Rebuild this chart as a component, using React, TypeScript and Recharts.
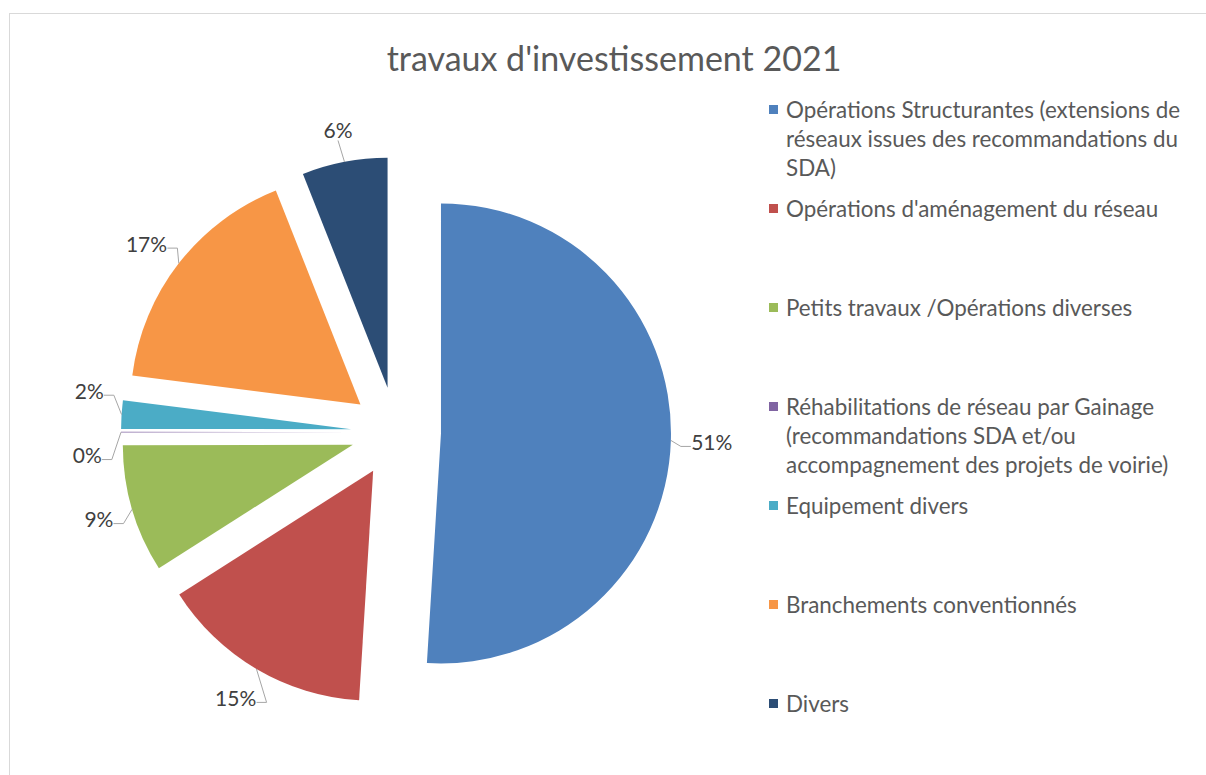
import { PieChart, Pie, Cell, Legend, Sector } from 'recharts';

const CATEGORIES = [
  'Opérations Structurantes (extensions de réseaux issues des recommandations du SDA)',
  "Opérations d'aménagement du réseau",
  'Petits travaux /Opérations diverses',
  'Réhabilitations de réseau par Gainage (recommandations SDA et/ou accompagnement des projets de voirie)',
  'Equipement divers',
  'Branchements conventionnés',
  'Divers',
];
const SHARES = [51, 15, 9, 0.05, 2, 17, 6];
const COLORS = ['#4F81BD', '#C0504D', '#9BBB59', '#8064A2', '#4BACC6', '#F79646', '#2C4D75'];

const data = CATEGORIES.map((name, i) => ({ name, value: SHARES[i] }));

const FONT = 'Lato, "Open Sans", sans-serif';
const LABEL_SIZE = 21;
const EXPLODE = 45;
const RADIUS = 230;
const GAP = 22;
const MIN_SEP = 12; // degrees between neighbouring labels

const RAD = Math.PI / 180;

// label angles (same convention as the pie: 90 = top, going clockwise), spread when too close
const labelAngles = (() => {
  const total = SHARES.reduce((a, b) => a + b, 0);
  let acc = 0;
  const mids = SHARES.map((v) => {
    const m = 90 - ((acc + v / 2) / total) * 360;
    acc += v;
    return m;
  });
  for (let i = 1; i < mids.length; i++) {
    const diff = mids[i - 1] - mids[i];
    if (diff < MIN_SEP) {
      const c = (mids[i - 1] + mids[i]) / 2;
      mids[i - 1] = c + MIN_SEP / 2;
      mids[i] = c - MIN_SEP / 2;
    }
  }
  return mids;
})();

const renderSlice = (props: any) => {
  const { cx, cy, midAngle, outerRadius, startAngle, endAngle, index, percent } = props;
  const mx = Math.cos(-midAngle * RAD);
  const my = Math.sin(-midAngle * RAD);
  const sx = cx + EXPLODE * mx;
  const sy = cy + EXPLODE * my;

  const text = `${Math.round(percent * 100)}%`;
  const la = labelAngles[index];
  const lx = Math.cos(-la * RAD);
  const ly = Math.sin(-la * RAD);
  const hw = text.length * LABEL_SIZE * 0.3;
  const hh = 11;
  const r = EXPLODE + outerRadius + GAP;
  const tx = cx + r * lx + hw * lx;
  const ty = cy + r * ly + hh * ly;

  // leader line from the arc to the label
  const ax = sx + outerRadius * mx;
  const ay = sy + outerRadius * my;
  let points: number[][];
  if (Math.abs(ly) > 0.9) {
    points = [[ax, ay], [tx, ty + (ly < 0 ? hh : -hh)]];
  } else if (lx < 0) {
    const bx = tx + hw + 2;
    points = [[ax, ay], [bx + 10, ty + 5], [bx, ty + 5]];
  } else {
    const bx = tx - hw - 2;
    points = [[ax, ay], [bx - 10, ty + 5], [bx, ty + 5]];
  }
  const last = points[points.length - 1];
  const showLine = Math.hypot(last[0] - ax, last[1] - ay) > 12;

  return (
    <g key={`slice-${index}`}>
      <Sector
        cx={sx}
        cy={sy}
        innerRadius={0}
        outerRadius={outerRadius}
        startAngle={startAngle}
        endAngle={endAngle}
        fill={COLORS[index]}
        stroke="none"
      />
      {showLine && (
        <polyline
          points={points.map((p) => p.join(',')).join(' ')}
          fill="none"
          stroke="#a6a6a6"
          strokeWidth={1}
        />
      )}
      <text
        x={tx}
        y={ty}
        textAnchor="middle"
        dominantBaseline="central"
        fill="#404040"
        fontSize={LABEL_SIZE}
        fontFamily={FONT}
      >
        {text}
      </text>
    </g>
  );
};

const renderLegend = (props: any) => {
  const payload = [...(props.payload || [])].sort(
    (a: any, b: any) => CATEGORIES.indexOf(a.value) - CATEGORIES.indexOf(b.value),
  );
  return (
    <div style={{ fontFamily: FONT, fontSize: 22.4, color: '#595959' }}>
      {payload.map((entry: any) => {
        const i = CATEGORIES.indexOf(entry.value);
        return (
          <div key={entry.value} style={{ display: 'flex', alignItems: 'flex-start', height: 99 }}>
            <span
              style={{
                width: 9,
                height: 9,
                background: COLORS[i],
                marginTop: 10,
                marginRight: 8,
                flexShrink: 0,
              }}
            />
            <span style={{ lineHeight: '29px', width: 408 }}>{entry.value}</span>
          </div>
        );
      })}
    </div>
  );
};

export default function App() {
  return (
    <div
      style={{
        position: 'absolute',
        left: 0,
        top: 0,
        width: 1206,
        height: 775,
        overflow: 'hidden',
        background: '#fff',
        fontFamily: FONT,
      }}
    >
      <div
        style={{
          position: 'absolute',
          left: 9,
          top: 13,
          width: 1220,
          height: 800,
          border: '1px solid #d9d9d9',
        }}
      />
      <div style={{ position: 'absolute', left: 0, top: 0 }}>
        <PieChart width={1206} height={775} margin={{ top: 0, right: 0, bottom: 0, left: 0 }}>
          <Pie
            data={data}
            dataKey="value"
            nameKey="name"
            cx={396}
            cy={432}
            outerRadius={RADIUS}
            startAngle={90}
            endAngle={-270}
            stroke="none"
            label={renderSlice}
            labelLine={false}
            isAnimationActive={false}
          >
            {data.map((d, i) => (
              <Cell key={d.name} fill={COLORS[i]} fillOpacity={0} />
            ))}
          </Pie>
          <Legend
            layout="vertical"
            align="right"
            verticalAlign="top"
            content={renderLegend}
            wrapperStyle={{ left: 769, top: 95, width: 437 }}
          />
        </PieChart>
      </div>
      <div
        style={{
          position: 'absolute',
          left: 0,
          top: 39,
          width: 1228,
          textAlign: 'center',
          fontSize: 34,
          lineHeight: '38px',
          color: '#595959',
        }}
      >
        travaux d'investissement 2021
      </div>
    </div>
  );
}
